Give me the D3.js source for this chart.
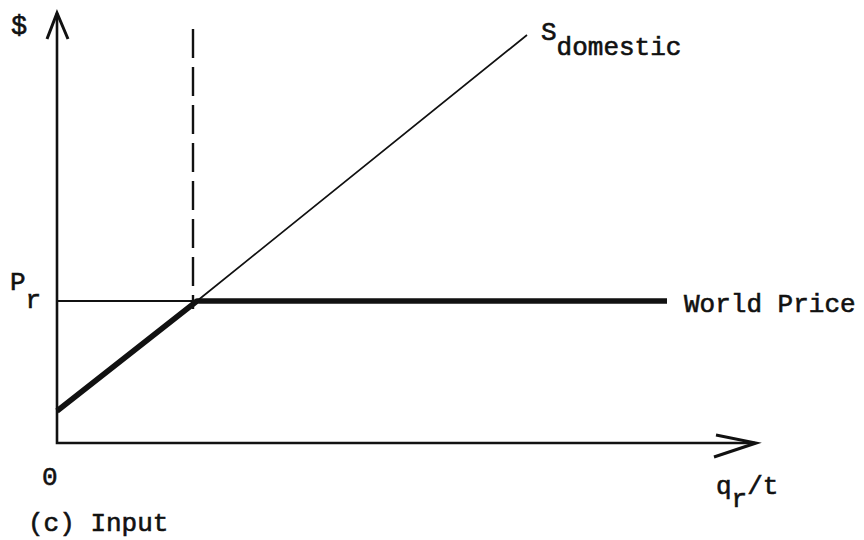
<!DOCTYPE html>
<html>
<head>
<meta charset="utf-8">
<script src="https://cdn.jsdelivr.net/npm/d3@7"></script>
<style>
  body { margin: 0; background: #fff; }
  text { font-family: "Liberation Mono", "Courier New", monospace; fill: #111; stroke: #111; stroke-width: 0.6px; }
</style>
</head>
<body>
<div id="chart-area"></div>
<script>
// quantities and prices in arbitrary units
const supplyQ = [0, 140, 470];
const supplyP = [32, 142, 408];
const worldPrice = 142;
const worldQ = [0, 610];
const kinkQ = 140;
const dashTopP = 414;

const width = 864, height = 540;

const svg = d3.select('#chart-area')
    .append('svg')
    .attr('width', width)
    .attr('height', height);

const x = d3.scaleLinear().domain([0, 700]).range([57, 757]);
const y = d3.scaleLinear().domain([0, 430]).range([443, 13]);

const line = d3.line().x(d => x(d[0])).y(d => y(d[1]));

// axes
svg.append('path')
    .attr('d', line([[0, 430], [0, 0], [698, 0]]))
    .attr('fill', 'none')
    .attr('stroke', '#111')
    .attr('stroke-width', 2.6);

// open arrow heads
svg.append('path')
    .attr('d', 'M' + (x(0) - 10) + ',' + (y(430) + 26) + ' L' + x(0) + ',' + y(430) + ' L' + (x(0) + 11) + ',' + (y(430) + 26))
    .attr('fill', 'none').attr('stroke', '#111').attr('stroke-width', 3);

svg.append('path')
    .attr('d', 'M' + (x(699) - 40) + ',' + (y(0) - 8) + ' L' + x(699) + ',' + y(0) + ' L' + (x(699) - 42) + ',' + (y(0) + 14))
    .attr('fill', 'none').attr('stroke', '#111').attr('stroke-width', 3);

// domestic supply (thin)
svg.append('path')
    .attr('d', line(supplyQ.map((q, i) => [q, supplyP[i]])))
    .attr('fill', 'none')
    .attr('stroke', '#111')
    .attr('stroke-width', 1.7);

// world price (thin)
svg.append('path')
    .attr('d', line(worldQ.map(q => [q, worldPrice])))
    .attr('fill', 'none')
    .attr('stroke', '#111')
    .attr('stroke-width', 2);

// effective supply (thick)
svg.append('path')
    .attr('d', line([[supplyQ[0], supplyP[0]], [kinkQ, worldPrice], [worldQ[1], worldPrice]]))
    .attr('fill', 'none')
    .attr('stroke', '#111')
    .attr('stroke-width', 5.5)
    .attr('stroke-linejoin', 'round');

// dashed vertical
svg.append('path')
    .attr('d', line([[kinkQ - 4, dashTopP], [kinkQ - 4, worldPrice - 8]]))
    .attr('fill', 'none')
    .attr('stroke', '#111')
    .attr('stroke-width', 2.4)
    .attr('stroke-dasharray', '29,9');

// labels
svg.append('text').attr('x', 11).attr('y', 34).attr('font-size', '27px').text('$');

const pr = svg.append('text').attr('x', 10).attr('y', 290).attr('font-size', '26px');
pr.append('tspan').text('P');
pr.append('tspan').attr('dy', 18).text('r');

svg.append('text').attr('x', 42).attr('y', 485).attr('font-size', '26px').text('0');

svg.append('text').attr('x', 28).attr('y', 531).attr('font-size', '26px').text('(c) Input');

svg.append('text').attr('x', 684).attr('y', 312).attr('font-size', '26px').text('World Price');

const sd = svg.append('text').attr('x', 541).attr('y', 40).attr('font-size', '26px');
sd.append('tspan').text('S');
sd.append('tspan').attr('dy', 15).text('domestic');

const qt = svg.append('text').attr('x', 716).attr('y', 494).attr('font-size', '26px');
qt.append('tspan').text('q');
qt.append('tspan').attr('dy', 13).text('r');
qt.append('tspan').attr('dy', -13).text('/t');
</script>
</body>
</html>
